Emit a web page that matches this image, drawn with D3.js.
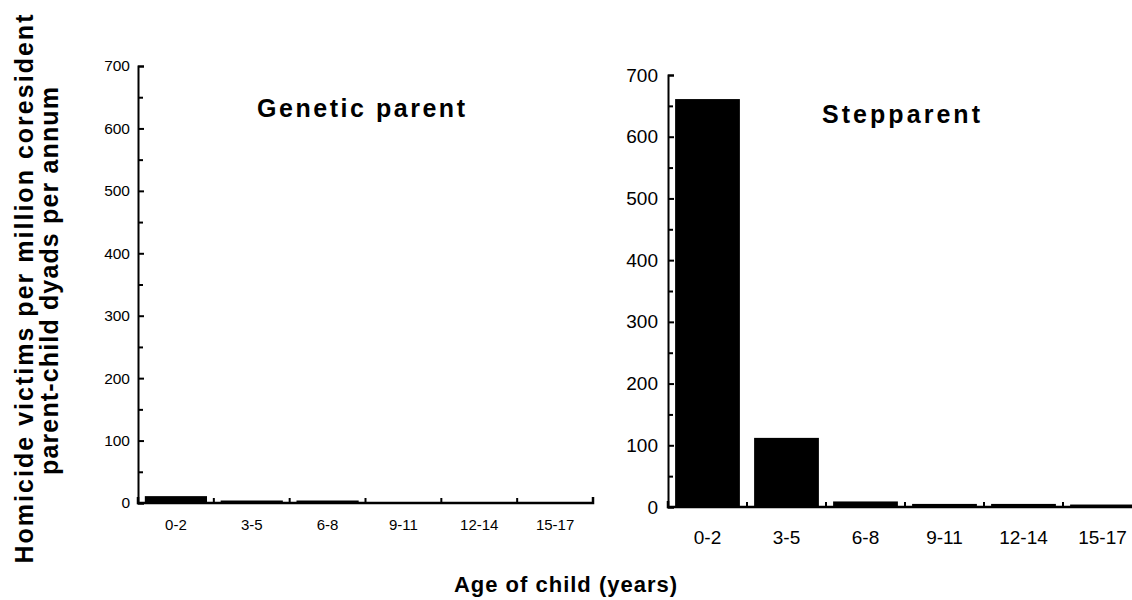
<!DOCTYPE html>
<html>
<head>
<meta charset="utf-8">
<script src="https://cdn.jsdelivr.net/npm/d3@7"></script>
<style>
  html, body { margin: 0; padding: 0; background: #fff; }
  svg { display: block; }
  text { font-family: "Liberation Sans", Arial, Helvetica, sans-serif; fill: #000; }
</style>
</head>
<body>
<svg id="chart" width="1132" height="600"></svg>
<script>
// Age classes of the child (years)
const categories = ["0-2", "3-5", "6-8", "9-11", "12-14", "15-17"];
// Homicide victims per million coresident parent-child dyads per annum
const geneticValues = [11, 4, 4, 1, 1, 1.5];
const stepValues = [661, 112, 9, 5, 5, 4];
// y-axis ticks
const yTickValues = [0, 100, 200, 300, 400, 500, 600, 700];
const yMinorValues = [50, 150, 250, 350, 450, 550, 650];
const panelTitles = ["Genetic parent", "Stepparent"];
const yTitleLines = ["Homicide victims per million coresident", "parent-child dyads per annum"];
const xTitle = "Age of child (years)";

const svg = d3.select("#chart");

const panels = [
  { title: panelTitles[0], values: geneticValues, left: 138, right: 593, top: 66, bottom: 503,
    tickFont: 15.5, tickPad: 8, catFont: 15, catPad: 16, titleX: 257, titleY: 117, titleLen: 208 },
  { title: panelTitles[1], values: stepValues, left: 668, right: 1142, top: 75, bottom: 507,
    tickFont: 19, tickPad: 10, catFont: 19, catPad: 24, titleX: 822, titleY: 123, titleLen: 158 }
];

panels.forEach(p => {
  const g = svg.append("g");
  const x = d3.scaleBand().domain(categories).range([p.left, p.right]).padding(0);
  const y = d3.scaleLinear().domain([0, 700]).range([p.bottom, p.top]);
  const step = x.step();
  const inset = step * 0.09;

  // bars
  g.selectAll("rect.bar")
    .data(categories.map((c, i) => ({ c, v: p.values[i] })))
    .join("rect")
    .attr("class", "bar")
    .attr("x", d => x(d.c) + inset)
    .attr("width", step - 2 * inset)
    .attr("y", d => y(d.v))
    .attr("height", d => y(0) - y(d.v))
    .attr("fill", "#000");

  // y axis: major ticks with labels, pointing inward
  const yAxis = g.append("g")
    .attr("transform", `translate(${p.left},0)`)
    .call(d3.axisLeft(y).tickValues(yTickValues).tickSize(-6).tickPadding(p.tickPad).tickFormat(d3.format("d")));
  yAxis.select(".domain").attr("stroke", "#000").attr("stroke-width", 2);
  yAxis.selectAll(".tick line").attr("stroke", "#000").attr("stroke-width", 2);
  yAxis.selectAll(".tick text")
    .attr("font-size", p.tickFont)
    .style("font-family", "'Liberation Sans', Arial, sans-serif");

  // y axis minor ticks
  const yMinor = g.append("g")
    .attr("transform", `translate(${p.left},0)`)
    .call(d3.axisLeft(y).tickValues(yMinorValues).tickSize(-5).tickFormat(""));
  yMinor.select(".domain").remove();
  yMinor.selectAll(".tick line").attr("stroke", "#000").attr("stroke-width", 2);

  // x axis baseline and category labels
  const xAxis = g.append("g")
    .attr("transform", `translate(0,${p.bottom})`)
    .call(d3.axisBottom(x).tickSize(0).tickPadding(p.catPad));
  xAxis.select(".domain").attr("stroke", "#000").attr("stroke-width", 2.5)
    .attr("d", `M${p.left},-6V0H${p.right}V-6`);
  xAxis.selectAll(".tick text")
    .attr("font-size", p.catFont)
    .style("font-family", "'Liberation Sans', Arial, sans-serif");

  // boundary ticks between categories, pointing up
  g.selectAll("line.sep")
    .data(categories.slice(1))
    .join("line")
    .attr("class", "sep")
    .attr("x1", d => x(d)).attr("x2", d => x(d))
    .attr("y1", p.bottom).attr("y2", p.bottom - 5)
    .attr("stroke", "#000").attr("stroke-width", 2);

  // panel title
  g.append("text")
    .attr("x", p.titleX)
    .attr("y", p.titleY)
    .attr("font-size", 25)
    .attr("font-weight", "bold")
    .attr("textLength", p.titleLen)
    .attr("lengthAdjust", "spacing")
    .text(p.title);
});

// shared y-axis title (two rotated lines)
const yTitle = svg.append("g");
const yLines = [
  { text: yTitleLines[0], x: 33, cy: 289, len: 549 },
  { text: yTitleLines[1], x: 58, cy: 281, len: 388 }
];
yLines.forEach(l => {
  yTitle.append("text")
    .attr("transform", `translate(${l.x},${l.cy}) rotate(-90)`)
    .attr("text-anchor", "middle")
    .attr("font-size", 25)
    .attr("font-weight", "bold")
    .attr("textLength", l.len)
    .attr("lengthAdjust", "spacing")
    .text(l.text);
});

// shared x-axis title
svg.append("text")
  .attr("x", 566)
  .attr("y", 592)
  .attr("text-anchor", "middle")
  .attr("font-size", 22)
  .attr("font-weight", "bold")
  .attr("letter-spacing", 1)
  .text(xTitle);
</script>
</body>
</html>
